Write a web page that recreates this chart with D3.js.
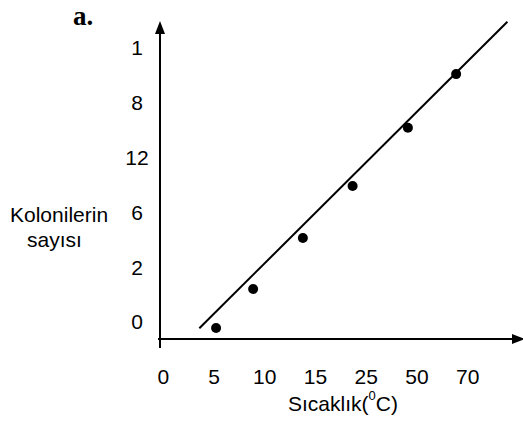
<!DOCTYPE html>
<html>
<head>
<meta charset="utf-8">
<script src="https://cdn.jsdelivr.net/npm/d3@7"></script>
<style>
  body { margin: 0; background: #fff; }
  text { font-family: Arial, "Liberation Sans", sans-serif; fill: #000; }
</style>
</head>
<body>
<div id="my_dataviz"></div>
<script>
// tick labels as printed on the axes
var xTickLabels = [0, 5, 10, 15, 25, 50, 70];
var yTickLabels = ["0", "2", "6", "12", "8", "1"];

// measured points (temperature, position along the y tick rows)
var pointTemps = [5.2, 8.85, 13.75, 22.3, 45.5, 65.4];
var pointCounts = [-0.11, 0.6, 1.53, 2.48, 3.54, 4.52];

// fitted trend line end points
var lineTemps = [3.55, 85.6];
var lineCounts = [-0.117, 5.475];

var width = 523, height = 425;

var svg = d3.select("#my_dataviz")
    .append("svg")
    .attr("width", width)
    .attr("height", height);

// x: every printed tick is one equal step apart
var x0 = 163.3, xStep = 50.75;
var x = d3.scaleLinear()
    .domain(xTickLabels)
    .range(xTickLabels.map(function(d, i) { return x0 + i * xStep; }));

// y: tick rows equally spaced
var y = d3.scaleLinear()
    .domain([0, yTickLabels.length - 1])
    .range([321.9, 47.8]);

// axis lines with arrows
var axisX = 160, axisY = 339;
svg.append("line")
    .attr("x1", axisX).attr("x2", axisX)
    .attr("y1", 348).attr("y2", 32)
    .attr("stroke", "black").attr("stroke-width", 2);
svg.append("path")
    .attr("d", "M" + axisX + ",21 L" + (axisX - 5) + ",34 L" + (axisX + 5) + ",34 Z")
    .attr("fill", "black");

svg.append("line")
    .attr("x1", 158).attr("x2", 514)
    .attr("y1", axisY).attr("y2", axisY)
    .attr("stroke", "black").attr("stroke-width", 2);
svg.append("path")
    .attr("d", "M525," + axisY + " L512," + (axisY - 5) + " L512," + (axisY + 5) + " Z")
    .attr("fill", "black");

// tick labels
svg.selectAll(".xlab")
    .data(xTickLabels)
    .enter()
    .append("text")
    .attr("class", "xlab")
    .attr("x", function(d) { return x(d); })
    .attr("y", 384)
    .attr("text-anchor", "middle")
    .style("font-size", "21px")
    .text(function(d) { return d; });

svg.selectAll(".ylab")
    .data(yTickLabels)
    .enter()
    .append("text")
    .attr("class", "ylab")
    .attr("x", 137)
    .attr("y", function(d, i) { return y(i); })
    .attr("dy", "0.36em")
    .attr("text-anchor", "middle")
    .style("font-size", "21px")
    .text(function(d) { return d; });

// axis titles
svg.append("text")
    .attr("x", 10).attr("y", 222)
    .style("font-size", "21px")
    .text("Kolonilerin");
svg.append("text")
    .attr("x", 27).attr("y", 247)
    .style("font-size", "21px")
    .text("sayısı");

var xt = svg.append("text")
    .attr("x", 288).attr("y", 411)
    .style("font-size", "21px");
xt.append("tspan").text("Sıcaklık(");
xt.append("tspan").attr("dy", -11).style("font-size", "13px").text("0");
xt.append("tspan").attr("dy", 11).text("C)");

// panel letter
svg.append("text")
    .attr("x", 73).attr("y", 25)
    .style("font-family", "'Liberation Serif', 'Times New Roman', serif")
    .style("font-weight", "bold")
    .style("font-size", "27px")
    .text("a.");

// trend line
var line = d3.line()
    .x(function(d) { return x(d[0]); })
    .y(function(d) { return y(d[1]); });
svg.append("path")
    .datum(d3.zip(lineTemps, lineCounts))
    .attr("d", line)
    .attr("fill", "none")
    .attr("stroke", "black")
    .attr("stroke-width", 2);

// points
svg.selectAll("circle")
    .data(d3.zip(pointTemps, pointCounts))
    .enter()
    .append("circle")
    .attr("cx", function(d) { return x(d[0]); })
    .attr("cy", function(d) { return y(d[1]); })
    .attr("r", 5)
    .attr("fill", "black");
</script>
</body>
</html>
